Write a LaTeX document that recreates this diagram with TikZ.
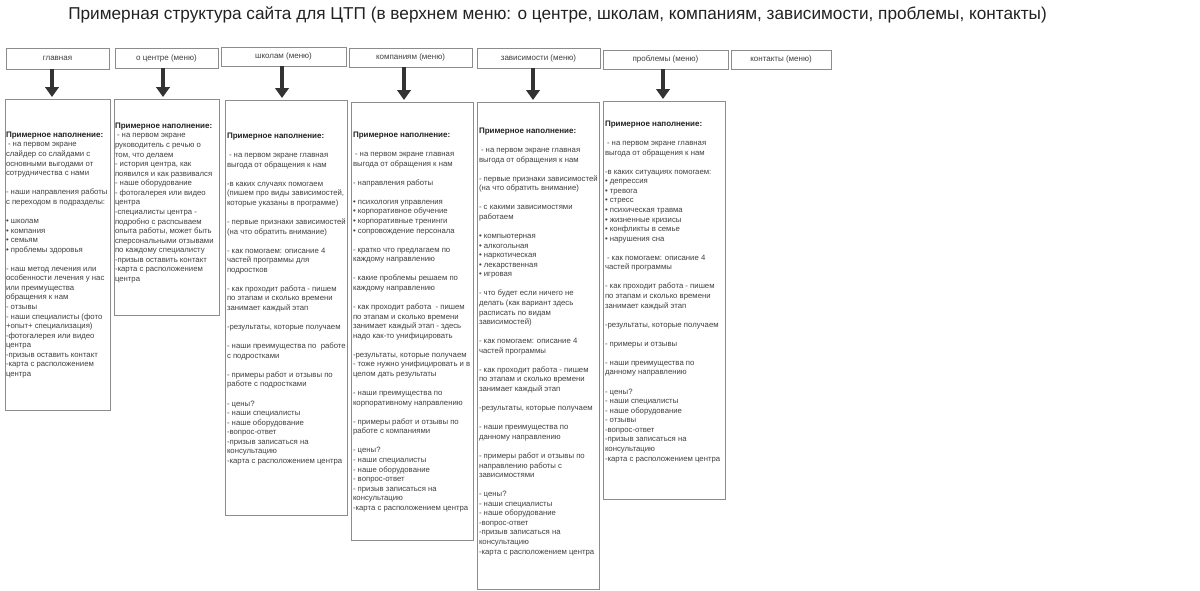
\documentclass[tikz,border=0pt]{standalone}
\usepackage{fontspec}
\setmainfont{Liberation Sans}
\usetikzlibrary{arrows.meta}
\definecolor{bordc}{HTML}{8C8C8C}
\definecolor{txtc}{HTML}{404040}
\definecolor{headc}{HTML}{222222}
\definecolor{arrc}{HTML}{333333}
\newcommand{\gap}{\\[9.56pt]}
\newcommand{\hd}{\textcolor{headc}{\fontsize{8}{9.56}\selectfont\textbf{Примерное наполнение:}}}
\begin{document}
\begin{tikzpicture}[x=1pt,y=-1pt,
 hbox/.style={draw=bordc, line width=0.8pt, inner sep=0pt, outer sep=0pt, text=txtc, font=\fontsize{8}{9.5}\selectfont},
 cbox/.style={draw=bordc, line width=0.8pt, inner sep=0pt, outer sep=0pt},
 ctext/.style={anchor=north west, inner sep=0pt, outer sep=0pt, align=left, text=txtc, font=\fontsize{7.75}{9.56}\selectfont},
 arr/.style={draw=arrc, line width=3.8pt, -{Triangle[width=13.5pt,length=10pt]}, shorten >=2pt}
]
\useasboundingbox (0,0) rectangle (1200,590);
\fill[white] (0,0) rectangle (1200,590);

\node[font=\fontsize{17.2}{20}\selectfont, text=headc] (title) at (557.5,15) {Примерная структура сайта для ЦТП (в верхнем меню: о центре, школам, компаниям, зависимости, проблемы, контакты)};

% header boxes
\node[hbox, minimum width=103pt, minimum height=21pt] (h1) at (57.5,58.5) {главная};
\node[hbox, minimum width=103pt, minimum height=20pt] (h2) at (166.5,58) {о центре (меню)};
\node[hbox, minimum width=125pt, minimum height=19pt] (h3) at (283.5,56.5) {школам (меню)};
\node[hbox, minimum width=123pt, minimum height=19pt] (h4) at (410.5,57.5) {компаниям (меню)};
\node[hbox, minimum width=123pt, minimum height=20pt] (h5) at (538.5,58) {зависимости (меню)};
\node[hbox, minimum width=125pt, minimum height=19pt] (h6) at (665.5,59.5) {проблемы (меню)};
\node[hbox, minimum width=100pt, minimum height=19pt] (h7) at (781,59.5) {контакты (меню)};

% content boxes
\node[cbox, minimum width=105pt, minimum height=311pt] (b1) at (57.5,254.5) {};
\node[cbox, minimum width=105pt, minimum height=216pt] (b2) at (166.5,207) {};
\node[cbox, minimum width=122pt, minimum height=415pt] (b3) at (286,307.5) {};
\node[cbox, minimum width=122pt, minimum height=438pt] (b4) at (412,321) {};
\node[cbox, minimum width=122pt, minimum height=487pt] (b5) at (538,345.5) {};
\node[cbox, minimum width=122pt, minimum height=398pt] (b6) at (664,300) {};

% arrows
\path (h1.south) ++(-5.5,0) coordinate (a1);
\path (h2.south) ++(-3.5,0) coordinate (a2);
\path (h3.south) ++(-1.5,0) coordinate (a3);
\path (h4.south) ++(-6.5,0) coordinate (a4);
\path (h5.south) ++(-5.5,0) coordinate (a5);
\path (h6.south) ++(-2.5,0) coordinate (a6);
\draw[arr] (a1) -- (a1 |- b1.north);
\draw[arr] (a2) -- (a2 |- b2.north);
\draw[arr] (a3) -- (a3 |- b3.north);
\draw[arr] (a4) -- (a4 |- b4.north);
\draw[arr] (a5) -- (a5 |- b5.north);
\draw[arr] (a6) -- (a6 |- b6.north);

% texts
\node[ctext] (t1) at (6,131.9) {\hd\\
\hspace{2pt}- на первом экране\\
слайдер со слайдами с\\
основными выгодами от\\
сотрудничества с нами\gap
- наши направления работы\\
с переходом в подразделы:\gap
• школам\\
• компания\\
• семьям\\
• проблемы здоровья\gap
- наш метод лечения или\\
особенности лечения у нас\\
или преимущества\\
обращения к нам\\
- отзывы\\
- наши специалисты (фото\\
+опыт+ специализация)\\
-фотогалерея или видео\\
центра\\
-призыв оставить контакт\\
-карта с расположением\\
центра};

\node[ctext] (t2) at (115,122.9) {\hd\\
\hspace{2pt}- на первом экране\\
руководитель с речью о\\
том, что делаем\\
- история центра, как\\
появился и как развивался\\
- наше оборудование\\
- фотогалерея или видео\\
центра\\
-специалисты центра -\\
подробно с распсываем\\
опыта работы, может быть\\
сперсональными отзывами\\
по каждому специалисту\\
-призыв оставить контакт\\
-карта с расположением\\
центра};

\node[ctext] (t3) at (227,132.9) {\hd\gap
\hspace{2pt}- на первом экране главная\\
выгода от обращения к нам\gap
-в каких случаях помогаем\\
(пишем про виды зависимостей,\\
которые указаны в программе)\gap
- первые признаки зависимостей\\
(на что обратить внимание)\gap
- как помогаем: описание 4\\
частей программы для\\
подростков\gap
- как проходит работа - пишем\\
по этапам и сколько времени\\
занимает каждый этап\gap
-результаты, которые получаем\gap
- наши преимущества по\ \ работе\\
с подростками\gap
- примеры работ и отзывы по\\
работе с подростками\gap
- цены?\\
- наши специалисты\\
- наше оборудование\\
-вопрос-ответ\\
-призыв записаться на\\
консультацию\\
-карта с расположением центра};

\node[ctext] (t4) at (353,131.9) {\hd\gap
\hspace{2pt}- на первом экране главная\\
выгода от обращения к нам\gap
- направления работы\gap
• психология управления\\
• корпоративное обучение\\
• корпоративные тренинги\\
• сопровождение персонала\gap
- кратко что предлагаем по\\
каждому направлению\gap
- какие проблемы решаем по\\
каждому направлению\gap
- как проходит работа\ \ - пишем\\
по этапам и сколько времени\\
занимает каждый этап - здесь\\
надо как-то унифицировать\gap
-результаты, которые получаем\\
- тоже нужно унифицировать и в\\
целом дать результаты\gap
- наши преимущества по\\
корпоративному направлению\gap
- примеры работ и отзывы по\\
работе с компаниями\gap
- цены?\\
- наши специалисты\\
- наше оборудование\\
- вопрос-ответ\\
- призыв записаться на\\
консультацию\\
-карта с расположением центра};

\node[ctext] (t5) at (479,127.9) {\hd\gap
\hspace{2pt}- на первом экране главная\\
выгода от обращения к нам\gap
- первые признаки зависимостей\\
(на что обратить внимание)\gap
- с какими зависимостями\\
работаем\gap
• компьютерная\\
• алкогольная\\
• наркотическая\\
• лекарственная\\
• игровая\gap
- что будет если ничего не\\
делать (как вариант здесь\\
расписать по видам\\
зависимостей)\gap
- как помогаем: описание 4\\
частей программы\gap
- как проходит работа - пишем\\
по этапам и сколько времени\\
занимает каждый этап\gap
-результаты, которые получаем\gap
- наши преимущества по\\
данному направлению\gap
- примеры работ и отзывы по\\
направлению работы с\\
зависимостями\gap
- цены?\\
- наши специалисты\\
- наше оборудование\\
-вопрос-ответ\\
-призыв записаться на\\
консультацию\\
-карта с расположением центра};

\node[ctext] (t6) at (605,120.9) {\hd\gap
\hspace{2pt}- на первом экране главная\\
выгода от обращения к нам\gap
-в каких ситуациях помогаем:\\
• депрессия\\
• тревога\\
• стресс\\
• психическая травма\\
• жизненные кризисы\\
• конфликты в семье\\
• нарушения сна\gap
\hspace{2pt}- как помогаем: описание 4\\
частей программы\gap
- как проходит работа - пишем\\
по этапам и сколько времени\\
занимает каждый этап\gap
-результаты, которые получаем\gap
- примеры и отзывы\gap
- наши преимущества по\\
данному направлению\gap
- цены?\\
- наши специалисты\\
- наше оборудование\\
- отзывы\\
-вопрос-ответ\\
-призыв записаться на\\
консультацию\\
-карта с расположением центра};
\end{tikzpicture}
\end{document}
